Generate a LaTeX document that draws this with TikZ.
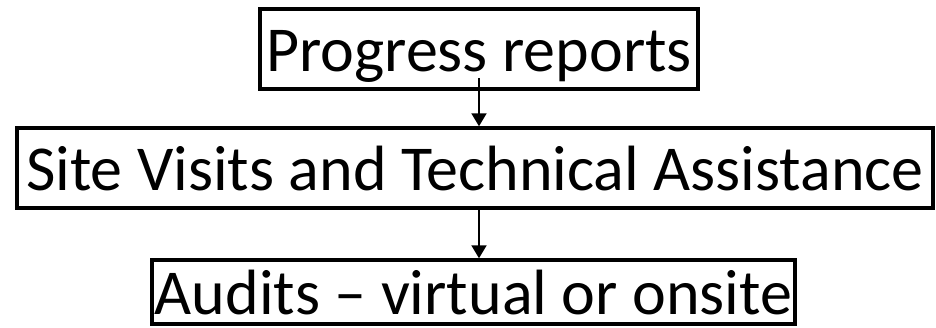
\documentclass[tikz,border=0pt]{standalone}
\usepackage{fontspec}
\setmainfont{Carlito}
\usetikzlibrary{arrows.meta}
\tikzstyle{stage} = [rectangle, draw=black, line width=3.5pt, text centered, inner sep=0pt, font=\fontsize{64}{77}\selectfont, text height=46pt, text depth=2pt]
\tikzstyle{arrow} = [line width=2pt, -{Triangle[width=15pt,length=13pt]}]

\begin{document}
\begin{tikzpicture}
[x=1pt,y=1pt]
\useasboundingbox (0,0) rectangle (936,-327);
\node (prog) [stage, minimum width=438pt, minimum height=80pt] at (479,-49) {Progress reports};
\node (site) [stage, minimum width=916pt, minimum height=80pt] at (475,-168) {Site Visits and Technical Assistance};
\node (audit) [stage, minimum width=643pt, minimum height=64pt] at (473.5,-292) {Audits – virtual or onsite};

\draw [arrow] ([yshift=13pt]prog.south) -- (prog.south |- site.north);
\draw [arrow] (prog.south |- site.south) -- (prog.south |- audit.north);

\end{tikzpicture}
\end{document}
